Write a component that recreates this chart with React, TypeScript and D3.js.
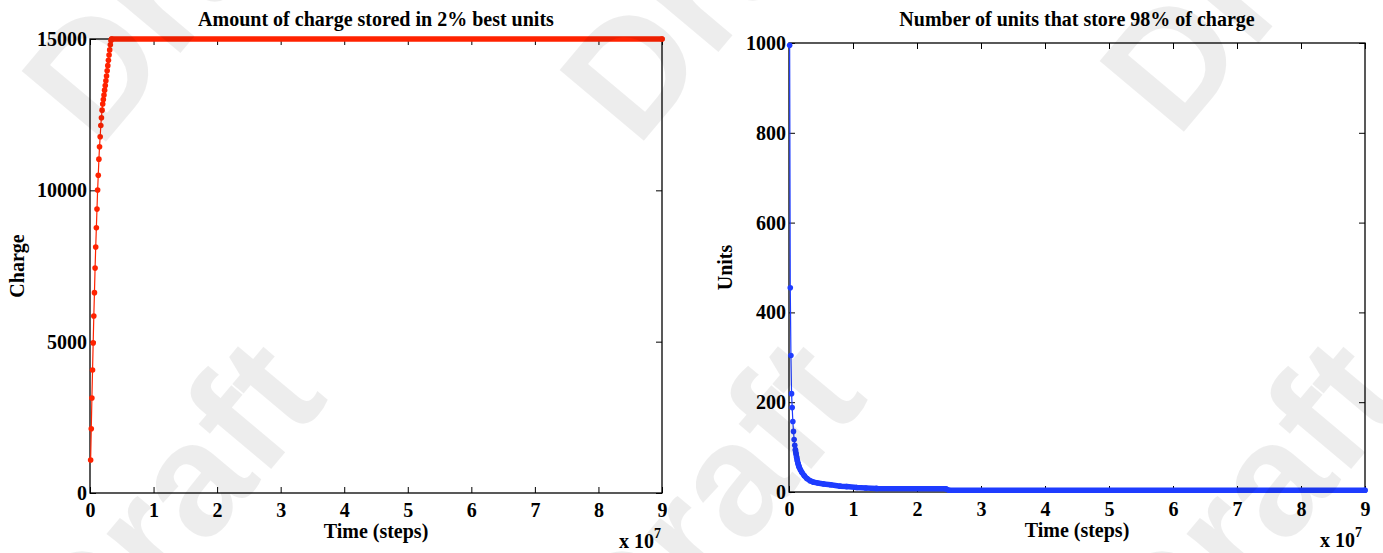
import React, { useEffect, useRef } from 'react';
import * as d3 from 'd3';

// left panel: charge held by the 2% best units, time in simulation steps
const chargeTime = [
  1e5, 2e5, 3e5, 4e5, 5e5, 6e5, 7e5, 8e5, 9e5, 1.0e6,
  1.1e6, 1.2e6, 1.3e6, 1.4e6, 1.5e6, 1.6e6, 1.7e6, 1.8e6, 1.9e6, 2.0e6,
  2.1e6, 2.2e6, 2.3e6, 2.4e6, 2.5e6, 2.6e6, 2.7e6, 2.8e6, 2.9e6, 3.0e6,
  3.1e6, 3.2e6, 3.3e6, 3.4e6, 9.0e7,
];
const chargeValue = [
  1090, 2125, 3140, 4060, 4960, 5850, 6620, 7430, 8130, 8760,
  9380, 10010, 10500, 11030, 11440, 11770, 12140, 12400, 12650, 12850,
  13000, 13150, 13310, 13460, 13620, 13780, 13950, 14120, 14300, 14470,
  14640, 14810, 14950, 15000, 15000,
];

// right panel: number of units holding 98% of the charge
const unitsTime = [
  1e5, 2e5, 3e5, 4e5, 5e5, 6e5, 7e5, 8e5, 9e5, 1.0e6,
  1.1e6, 1.2e6, 1.3e6, 1.4e6, 1.5e6, 1.6e6, 1.8e6, 2.0e6, 2.4e6, 2.8e6,
  3.3e6, 3.8e6, 4.5e6, 5.4e6, 6.5e6, 8.0e6, 9.0e6, 1.06e7, 1.2e7, 1.37e7,
  2.45e7, 2.5e7, 9.0e7,
];
const unitsValue = [
  995, 455, 304, 219, 188, 157, 135, 117, 104, 94,
  85, 77, 70, 64, 59, 55, 49, 44, 36, 30,
  25, 22, 20, 18, 16, 13, 12, 10, 9, 8,
  7, 4, 4,
];

const timeTicks = [0, 1, 2, 3, 4, 5, 6, 7, 8, 9]; // x 10^7
const chargeTicks = [0, 5000, 10000, 15000];
const unitsTicks = [0, 200, 400, 600, 800, 1000];

const SERIF = '"Liberation Serif", "Times New Roman", serif';

const drawPanel = (svg, p) => {
  const { left, right, top, bottom } = p;
  const x = d3.scaleLinear().domain([0, 9e7]).range([left, right]);
  const y = d3.scaleLinear().domain([0, p.yMax]).range([bottom, top]);
  const g = svg.append('g');

  const fontIt = sel => sel
    .attr('font-family', SERIF)
    .attr('font-weight', 'bold')
    .attr('font-size', 20);

  // axes with inward ticks on all four sides
  g.append('g')
    .attr('transform', `translate(0,${bottom})`)
    .call(d3.axisBottom(x).tickValues(timeTicks.map(t => t * 1e7))
      .tickFormat(d => String(d / 1e7)).tickSizeInner(-6).tickSizeOuter(0).tickPadding(10))
    .call(fontIt);
  g.append('g')
    .attr('transform', `translate(0,${top})`)
    .call(d3.axisTop(x).tickValues(timeTicks.map(t => t * 1e7))
      .tickFormat(() => '').tickSizeInner(-6).tickSizeOuter(0));
  g.append('g')
    .attr('transform', `translate(${left},0)`)
    .call(d3.axisLeft(y).tickValues(p.yTicks).tickFormat(d3.format('d'))
      .tickSizeInner(-6).tickSizeOuter(0).tickPadding(3))
    .call(fontIt);
  g.append('g')
    .attr('transform', `translate(${right},0)`)
    .call(d3.axisRight(y).tickValues(p.yTicks).tickFormat(() => '')
      .tickSizeInner(-6).tickSizeOuter(0));
  g.selectAll('.domain').remove();
  g.selectAll('.tick line').attr('stroke', '#000').attr('stroke-width', 1);

  g.append('rect')
    .attr('x', left).attr('y', top)
    .attr('width', right - left).attr('height', bottom - top)
    .attr('fill', 'none').attr('stroke', '#000').attr('stroke-width', 1.3);

  // titles and labels
  const cx = (left + right) / 2;
  g.append('text').attr('x', cx).attr('y', 26).attr('text-anchor', 'middle')
    .attr('font-family', SERIF).attr('font-weight', 'bold').attr('font-size', 20)
    .text(p.title);
  g.append('text').attr('x', cx).attr('y', bottom + 45).attr('text-anchor', 'middle')
    .call(fontIt).text('Time (steps)');
  g.append('text')
    .attr('transform', `translate(${p.yLabelX},${(top + bottom) / 2}) rotate(-90)`)
    .attr('text-anchor', 'middle').call(fontIt).text(p.yLabel);
  const exp = g.append('text').attr('x', right - p.expInset).attr('y', bottom + 55)
    .attr('text-anchor', 'end').call(fontIt);
  exp.append('tspan').text('x 10');
  exp.append('tspan').attr('dy', -10).attr('font-size', 14).text('7');

  // data: thin line, overlapping markers drawn as a thick band, then markers
  const pts = p.times.map((t, i) => [x(t), y(p.values[i])]);
  g.append('path')
    .attr('d', d3.line()(pts))
    .attr('fill', 'none').attr('stroke', p.color).attr('stroke-width', 1.2);
  const dense = pts.filter((d, i) => p.times[i] >= p.denseFrom);
  g.append('path')
    .attr('d', d3.line()(dense))
    .attr('fill', 'none').attr('stroke', p.color).attr('stroke-width', 5.5)
    .attr('stroke-linecap', 'round').attr('stroke-linejoin', 'round');
  g.selectAll('circle.pt')
    .data(pts)
    .enter().append('circle')
    .attr('class', 'pt')
    .attr('cx', d => d[0]).attr('cy', d => d[1]).attr('r', 2.8)
    .attr('fill', p.color);
};

const App = () => {
  const ref = useRef(null);

  useEffect(() => {
    const svg = d3.select(ref.current);
    svg.selectAll('*').remove();

    svg.append('rect').attr('width', 1383).attr('height', 553).attr('fill', '#fff');

    drawPanel(svg, {
      left: 90, right: 662, top: 39, bottom: 493,
      yMax: 15000, yTicks: chargeTicks,
      times: chargeTime, values: chargeValue, denseFrom: 3.4e6,
      color: '#ff2200',
      title: 'Amount of charge stored in 2% best units',
      yLabel: 'Charge', yLabelX: 24, expInset: 1,
    });
    drawPanel(svg, {
      left: 789, right: 1365, top: 43, bottom: 492,
      yMax: 1000, yTicks: unitsTicks,
      times: unitsTime, values: unitsValue, denseFrom: 1.0e6,
      color: '#1e3cff',
      title: 'Number of units that store 98% of charge',
      yLabel: 'Units', yLabelX: 732, expInset: 3,
    });

    // "Draft" watermark laid over everything
    const spots = [[99, 150], [637, 149], [1177, 140], [90, 685], [630, 685], [1170, 685]];
    svg.append('g')
      .selectAll('text')
      .data(spots)
      .enter().append('text')
      .attr('transform', d => `translate(${d[0]},${d[1]}) rotate(-50)`)
      .attr('font-family', '"Liberation Sans", Arial, sans-serif')
      .attr('font-weight', 'bold')
      .attr('font-size', 160)
      .attr('fill', '#000')
      .attr('fill-opacity', 0.07)
      .text('Draft');
  }, []);

  return (
    <svg ref={ref} width={1383} height={553}
      style={{ position: 'absolute', left: 0, top: 0, display: 'block' }} />
  );
};

export default App;
